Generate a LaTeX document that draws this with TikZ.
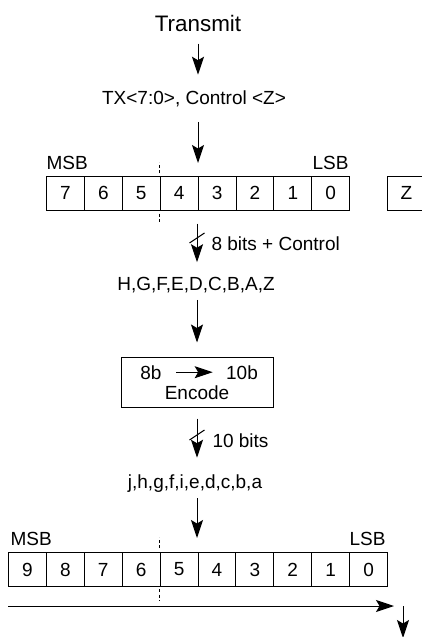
\documentclass[tikz,border=0pt]{standalone}
\usepackage{fontspec}
\setmainfont{Liberation Sans}
\usetikzlibrary{arrows.meta,calc}

\begin{document}
\begin{tikzpicture}[x=1pt, y=-1pt, line width=1pt,
		font=\fontsize{19}{22}\selectfont,
		arr/.style={-{Stealth[length=18pt,width=12pt,inset=3.5pt]}},
		cell/.style={draw, anchor=north west, inner sep=0pt, minimum width=37.9pt, minimum height=33.5pt},
		lbl/.style={inner sep=0pt, anchor=base},
		cut/.style={line width=0.8pt, dash pattern=on 3pt off 2.5pt}
		]
	\useasboundingbox (0,0) rectangle (422,637);
	\clip (0,0) rectangle (422,637);
	\coordinate (ax) at (197,0);
	% 8 bit side
	\node [lbl, font=\fontsize{22.4}{24}\selectfont] (tx) at (198,31) {Transmit};
	\node [lbl] (txd) at (194,104) {TX<7:0>, Control <Z>};
	\foreach \b [count=\i from 0] in {7,...,0}
		\node [cell] (t\b) at (46+37.9*\i,176) {\b};
	\node [cell] (z) at (387,176) {Z};
	\node [lbl, anchor=base west] (msb1) at (46,169) {MSB};
	\node [lbl, anchor=base east] (lsb1) at (349,169) {LSB};
	\draw [cut] ($(t4.north west)+(0,-3)$) -- ++(0,-11);
	\draw [cut] ($(t4.south west)+(0,3)$) -- ++(0,10);
	\draw [arr, shorten <=12pt, shorten >=15pt] (tx.south) -- (tx.south |- txd.north);
	\draw [arr, shorten <=15pt, shorten >=13pt] (tx.south |- txd.south) -- (tx.south |- t4.north);
	% encoder
	\node [lbl, anchor=base west] (bits8) at (211,250) {8 bits + Control};
	\node [lbl] (hg) at (196,290) {H,G,F,E,D,C,B,A,Z};
	\draw [arr, shorten <=13pt, shorten >=14pt] (ax |- t3.south) -- (ax |- hg.north);
	\coordinate (s1) at (197,238);
	\draw ($(s1)+(-7.5,5)$) -- ($(s1)+(7.5,-5)$);
	\node [draw, minimum width=152pt, minimum height=50pt] (enc) at (197,382) {};
	\node [lbl] (e8) at (151,379) {8b};
	\node [lbl] (e10) at (242,379) {10b};
	\node [lbl] (encl) at (197,399) {Encode};
	\draw [arr, shorten <=14pt, shorten >=13pt] (e8.east) -- (e10.west);
	\draw [arr, shorten <=7pt, shorten >=14pt] (ax |- hg.south) -- (ax |- enc.north);
	% 10 bit side
	\node [lbl, anchor=base west] (bits10) at (212,447) {10 bits};
	\node [lbl] (jh) at (195,488) {j,h,g,f,i,e,d,c,b,a};
	\draw [arr, shorten <=11pt, shorten >=16pt] (ax |- enc.south) -- (ax |- jh.north);
	\coordinate (s2) at (197,435);
	\draw ($(s2)+(-7.5,5)$) -- ($(s2)+(7.5,-5)$);
	\foreach \b [count=\i from 0] in {9,...,0}
		\node [cell, minimum height=34pt] (b\b) at (8+37.9*\i,552) {\b};
	\node [lbl, anchor=base west] (msb2) at (10,545) {MSB};
	\node [lbl, anchor=base east] (lsb2) at (386,545) {LSB};
	\draw [cut] ($(b5.north west)+(0,-4)$) -- ++(0,-11);
	\draw [cut] ($(b5.south west)+(0,2)$) -- ++(0,12);
	\draw [arr, shorten <=6pt, shorten >=14pt] (ax |- jh.south) -- (ax |- b4.north);
	% serial out
	\coordinate (ol) at ($(b9.south west)+(0,19)$);
	\coordinate (or) at ($(b0.south east)+(6,19)$);
	\coordinate (od) at ($(or)+(9,0)$);
	\coordinate (out) at ($(od)+(0,32)$);
	\draw [arr] (ol) -- (or);
	\draw [arr] (od) -- (out);
\end{tikzpicture}
\end{document}
